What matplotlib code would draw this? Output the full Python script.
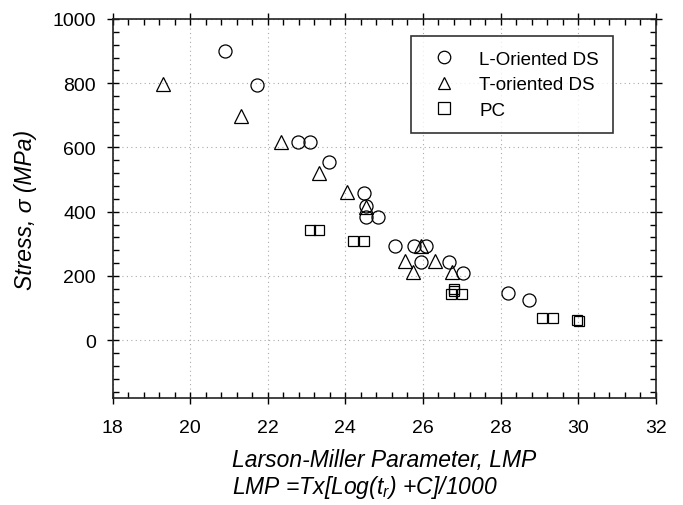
import matplotlib
matplotlib.use("Agg")
import matplotlib.pyplot as plt
from matplotlib.ticker import MultipleLocator

plt.rcParams['font.family'] = ['Liberation Sans', 'DejaVu Sans']
plt.rcParams['mathtext.fontset'] = 'custom'
plt.rcParams['mathtext.rm'] = 'Liberation Sans'
plt.rcParams['mathtext.it'] = 'Liberation Sans:italic'

# L-oriented DS (circles)
l_lmp = [20.89, 21.73, 22.78, 23.10, 23.58, 24.48, 24.52, 24.52, 24.85,
         25.28, 25.78, 26.09, 25.94, 26.67, 27.02, 28.20, 28.74]
l_stress = [899, 796, 616, 616, 554, 457, 417, 382, 382,
            292, 292, 292, 244, 244, 210, 146, 126]

# T-oriented DS (triangles)
t_lmp = [19.30, 21.32, 22.35, 23.32, 24.05, 24.52, 25.95, 25.53, 25.75, 26.30, 26.74]
t_stress = [797, 697, 617, 522, 460, 416, 292, 247, 211, 247, 211]

# PC (squares)
pc_lmp = [23.09, 23.33, 24.20, 24.49, 26.72, 27.00, 26.79, 26.81, 29.08, 29.36, 29.98, 30.02]
pc_stress = [344, 344, 309, 309, 144, 144, 160, 153, 68, 68, 63, 60]

fig = plt.figure(figsize=(6.83, 5.06), dpi=100)
ax = fig.add_axes([0.165, 0.2115, 0.795, 0.749])

ax.plot(l_lmp, l_stress, 'o', ms=9.4, mfc='none', mec='black', mew=0.9, ls='none',
        label='L-Oriented DS')
ax.plot(t_lmp, t_stress, '^', ms=10, mfc='none', mec='black', mew=0.9, ls='none',
        label='T-oriented DS')
ax.plot(pc_lmp, pc_stress, 's', ms=7.4, mfc='none', mec='black', mew=0.9, ls='none',
        label='PC')

ax.set_xlim(18, 32)
ax.set_ylim(-180, 1000)
ax.set_xticks(range(18, 33, 2))
ax.set_yticks(range(0, 1001, 200))
ax.xaxis.set_minor_locator(MultipleLocator(0.4))
ax.yaxis.set_minor_locator(MultipleLocator(40))

ax.tick_params(which='major', direction='inout', length=8, width=1,
               top=True, right=True, labelsize=14, pad=8)
ax.tick_params(which='minor', direction='in', length=4, width=1, top=True, right=True)
ax.tick_params(axis='x', which='major', pad=11)

for s in ax.spines.values():
    s.set_linewidth(1.2)
    s.set_color('#222222')

ax.grid(True, which='major', color='#aaaaaa', linestyle=(0, (1, 3)), linewidth=0.8)

ax.set_ylabel('Stress, σ (MPa)', fontsize=16.5, style='italic')
ax.yaxis.set_label_coords(-0.14, 0.5)
ax.set_xlabel('Larson-Miller Parameter, LMP\nLMP =Tx[Log($\\mathit{t_r}$) +C]/1000',
              fontsize=16.5, style='italic', multialignment='left', linespacing=1.1)
ax.xaxis.set_label_coords(0.5, -0.132)

leg = ax.legend(loc='upper left', bbox_to_anchor=(0.549, 0.954), borderaxespad=0,
                fontsize=13.5, frameon=True, fancybox=False, edgecolor='black',
                borderpad=0.75, labelspacing=0.45, handletextpad=0.9, handlelength=2.0,
                numpoints=1)
leg.get_frame().set_linewidth(1.2)
for h in leg.legend_handles:
    h.set_markersize(9)

fig.savefig('out.png', dpi=100)
